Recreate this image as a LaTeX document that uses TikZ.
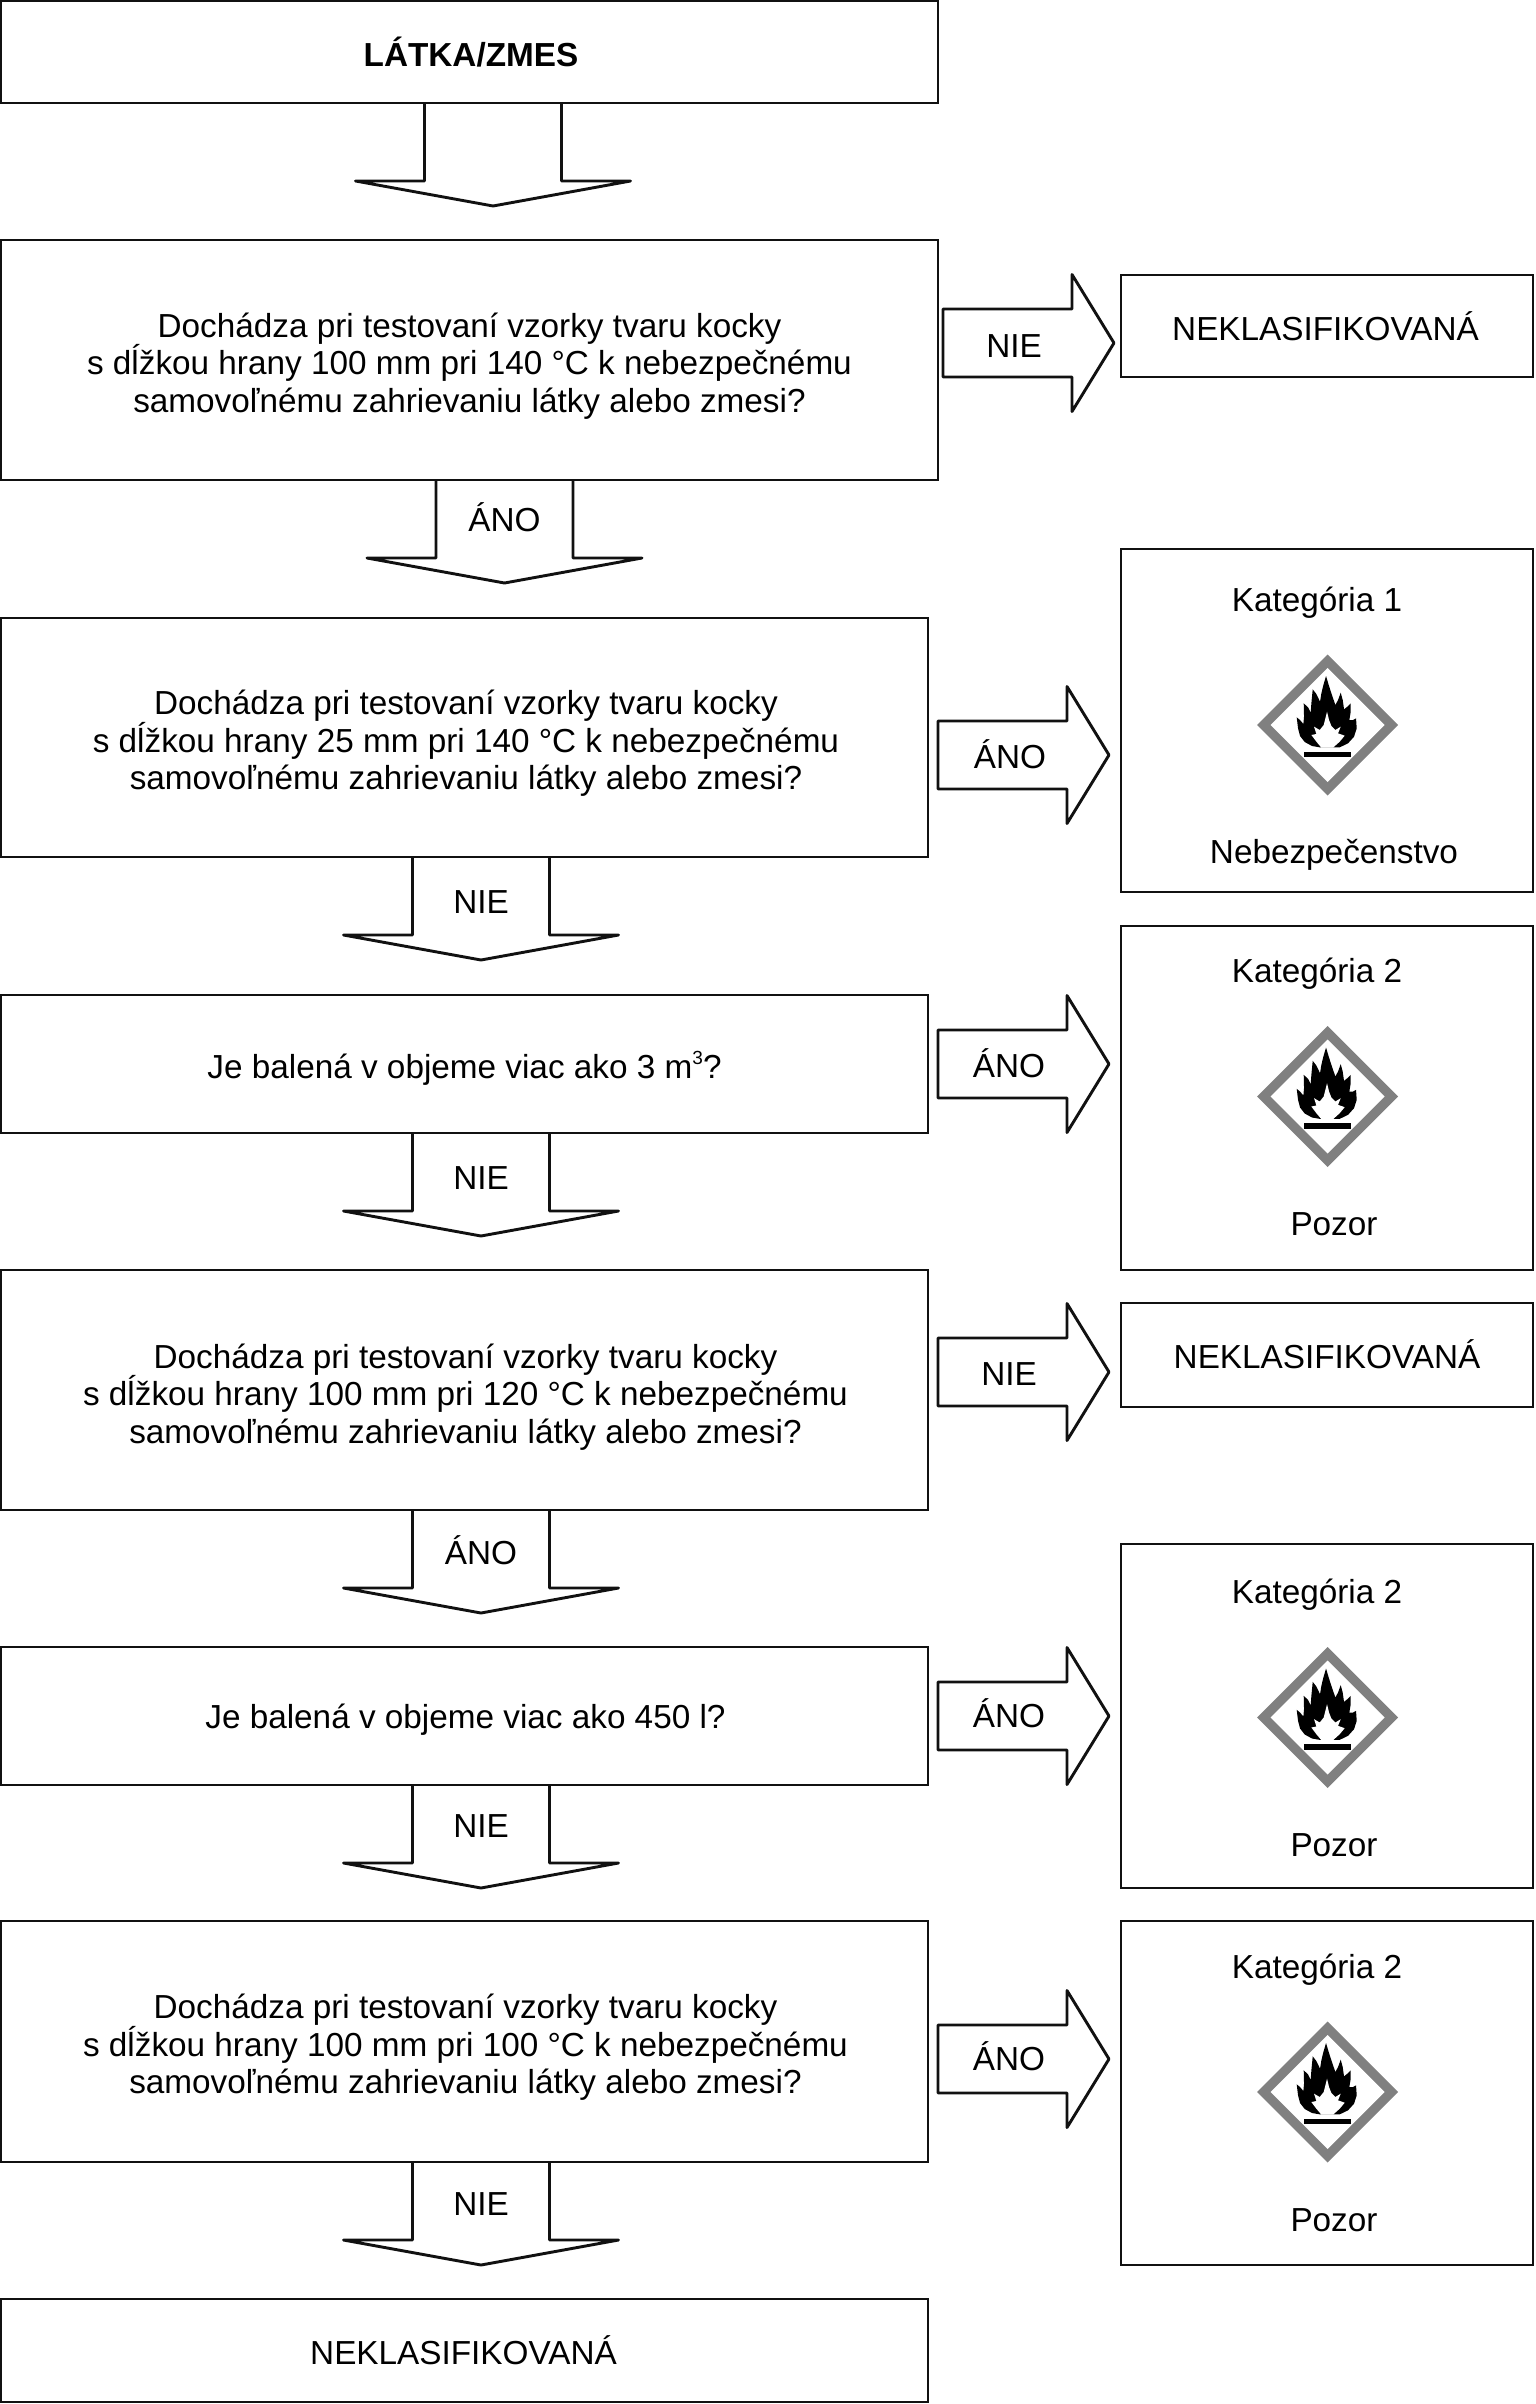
\documentclass[tikz,border=0pt]{standalone}
\usepackage{fontspec}
\setmainfont{Liberation Sans}
\usetikzlibrary{calc}
\definecolor{inkline}{HTML}{111111}
\definecolor{pictogray}{HTML}{808080}
\tikzset{
  flowtext/.style={font=\fontsize{33.3}{37.5}\selectfont, text=black, align=center, inner sep=0pt},
  framebox/.style={draw=inkline, line width=2.9pt, fill=white, outer sep=0pt, inner sep=0pt},
  blockarrow/.style={draw=inkline, line width=2.9pt, line join=round},
  arrowlabel/.style={flowtext}
}
% Rectangle given by its corners: name, x1, y1, x2, y2, text, text dx, text dy
\newcommand{\flowbox}[8]{%
  \node[framebox, minimum width={(#4-#2)*1pt}, minimum height={(#5-#3)*1pt}]
    (#1) at ({(#2+#4)/2},{(#3+#5)/2}) {};
  \node[flowtext] (#1-text) at ($(#1.center)+(#7,#8)$) {#6};}
% Open block arrow hanging below a box: name, source box, axis x, label x, label y, label
\newcommand{\blockdown}[6]{%
  \coordinate (#1-axis) at (#3,0);
  \coordinate (#1-o) at (#2.south -| #1-axis);
  \draw[blockarrow] ($(#1-o)+(-68.5,0)$) -- ++(0,78) -- ++(-69,0)
    -- ($(#1-o)+(0,103)$) -- ($(#1-o)+(137.5,78)$) -- ++(-69,0) -- ($(#1-o)+(68.5,0)$);
  \node[arrowlabel] (#1-label) at (#4,#5) {#6};}
% Closed block arrow beside a box: name, source box, gap, axis y, label x, label y, label
\newcommand{\blockright}[7]{%
  \coordinate (#1-axis) at (0,#4);
  \coordinate (#1-o) at ($(#2.east |- #1-axis)+(#3,0)$);
  \draw[blockarrow] ($(#1-o)+(0,-34)$) -- ++(129,0) -- ++(0,-34.5)
    -- ($(#1-o)+(171,0)$) -- ($(#1-o)+(129,68.5)$) -- ++(0,-34.5) -- ($(#1-o)+(0,34)$) -- cycle;
  \node[arrowlabel] (#1-label) at (#5,#6) {#7};}
% Flammability pictogram centred on the given point
\newcommand{\flamepicto}[2]{%
  \begin{scope}[shift={(#1,#2)}]
    \fill[pictogray] (0,-70.5) -- (70.5,0) -- (0,70.5) -- (-70.5,0) -- cycle;
    \fill[white] (0,-57) -- (57,0) -- (0,57) -- (-57,0) -- cycle;
    \begin{scope}[x=0.33333pt,y=-0.33333pt,shift={(-119,-165)}]
      \fill[black] (95,232) -- (72,228) -- (50,216) -- (36,198) -- (30,175) -- (26,142)
        -- (36,150) -- (46,162) -- (48,140) -- (47,100) -- (60,112) -- (68,128)
        -- (70,100) -- (74,58) -- (85,72) -- (96,95) -- (100,70) -- (106,45) -- (114,18)
        -- (122,45) -- (130,70) -- (142,105) -- (150,90) -- (158,68) -- (164,90) -- (168,118)
        -- (178,110) -- (188,100) -- (188,125) -- (184,150) -- (195,150) -- (204,145)
        -- (206,175) -- (198,200) -- (180,220) -- (155,232) -- cycle;
      \fill[white] (117,125) -- (123,150) -- (130,168) -- (142,180) -- (158,170) -- (150,190)
        -- (170,197) -- (155,215) -- (135,233) -- (100,233) -- (85,215) -- (70,195)
        -- (85,192) -- (78,170) -- (95,180) -- (107,165) -- cycle;
      \fill[black] (48,245) rectangle (188,262);
    \end{scope}
  \end{scope}}
\newcommand{\cubedmark}{\raisebox{0.42em}{\fontsize{19}{19}\selectfont 3}}
\begin{document}
\begin{tikzpicture}[x=1pt,y=-1pt]
  \useasboundingbox (0,0) rectangle (1535,2404);
  \fill[white] (0,0) rectangle (1535,2404);

  % Decision column
  \flowbox{start}{1}{1}{938}{103}{\textbf{LÁTKA/ZMES}}{1.5}{0}
  \flowbox{q1}{1}{240}{938}{480}{Dochádza pri testovaní vzorky tvaru kocky\\s dĺžkou hrany 100 mm pri 140 °C k nebezpečnému\\samovoľnému zahrievaniu látky alebo zmesi?}{0}{6}
  \flowbox{q2}{1}{618}{928}{857}{Dochádza pri testovaní vzorky tvaru kocky\\s dĺžkou hrany 25 mm pri 140 °C k nebezpečnému\\samovoľnému zahrievaniu látky alebo zmesi?}{1.5}{6}
  \flowbox{q3}{1}{995}{928}{1133}{Je balená v objeme viac ako 3 m\cubedmark?}{0}{4}
  \flowbox{q4}{1}{1270}{928}{1510}{Dochádza pri testovaní vzorky tvaru kocky\\s dĺžkou hrany 100 mm pri 120 °C k nebezpečnému\\samovoľnému zahrievaniu látky alebo zmesi?}{1}{7}
  \flowbox{q5}{1}{1647}{928}{1785}{Je balená v objeme viac ako 450 l?}{1}{3.5}
  \flowbox{q6}{1}{1921}{928}{2162}{Dochádza pri testovaní vzorky tvaru kocky\\s dĺžkou hrany 100 mm pri 100 °C k nebezpečnému\\samovoľnému zahrievaniu látky alebo zmesi?}{1}{6}
  \flowbox{end}{1}{2299}{928}{2402}{NEKLASIFIKOVANÁ}{-1}{0}

  % Outcome column
  \flowbox{r1}{1121}{275}{1533}{377}{NEKLASIFIKOVANÁ}{-1.5}{0}
  \flowbox{r2}{1121}{549}{1533}{892}{}{0}{0}
  \flowbox{r3}{1121}{926}{1533}{1270}{}{0}{0}
  \flowbox{r4}{1121}{1303}{1533}{1407}{NEKLASIFIKOVANÁ}{0}{-1}
  \flowbox{r5}{1121}{1544}{1533}{1888}{}{0}{0}
  \flowbox{r6}{1121}{1921}{1533}{2265}{}{0}{0}

  % Hazard captions
  \node[arrowlabel] (r2-cat) at (1317,603) {Kategória 1};
  \node[arrowlabel] (r2-sig) at (1334,855) {Nebezpečenstvo};
  \node[arrowlabel] (r3-cat) at (1317,974) {Kategória 2};
  \node[arrowlabel] (r3-sig) at (1334,1224) {Pozor};
  \node[arrowlabel] (r5-cat) at (1317,1595) {Kategória 2};
  \node[arrowlabel] (r5-sig) at (1334,1845) {Pozor};
  \node[arrowlabel] (r6-cat) at (1317,1970) {Kategória 2};
  \node[arrowlabel] (r6-sig) at (1334,2220) {Pozor};

  \flamepicto{1327.7}{725}
  \flamepicto{1327.7}{1096.5}
  \flamepicto{1327.7}{1717.5}
  \flamepicto{1327.7}{2092}

  % Downward flow
  \blockdown{d0}{start}{493}{493}{0}{}
  \blockdown{d1}{q1}{504.5}{504.5}{517}{ÁNO}
  \blockdown{d2}{q2}{481}{481}{902}{NIE}
  \blockdown{d3}{q3}{481}{481}{1178}{NIE}
  \blockdown{d4}{q4}{481}{481}{1550}{ÁNO}
  \blockdown{d5}{q5}{481}{481}{1826}{NIE}
  \blockdown{d6}{q6}{481}{481}{2204}{NIE}

  % Branches to the outcomes
  \blockright{a1}{q1}{5}{343}{1014}{346.5}{NIE}
  \blockright{a2}{q2}{10}{755}{1010}{754}{ÁNO}
  \blockright{a3}{q3}{10}{1064}{1009}{1063}{ÁNO}
  \blockright{a4}{q4}{10}{1372}{1009}{1374}{NIE}
  \blockright{a5}{q5}{10}{1716}{1009}{1713}{ÁNO}
  \blockright{a6}{q6}{10}{2059}{1009}{2056}{ÁNO}
\end{tikzpicture}
\end{document}
